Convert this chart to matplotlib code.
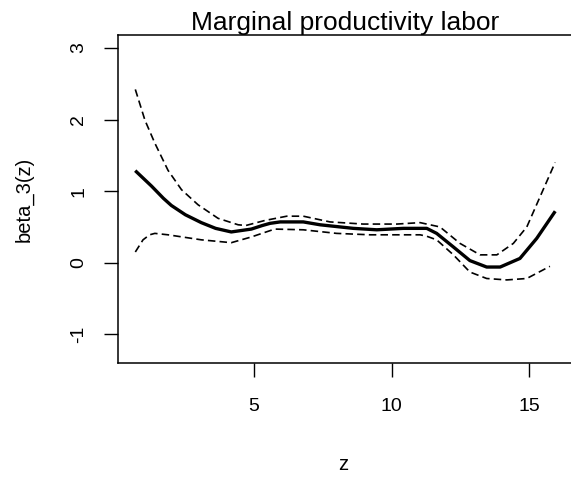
import numpy as np
import matplotlib
matplotlib.use("Agg")
import matplotlib.pyplot as plt

plt.rcParams['font.family'] = ['Liberation Sans', 'DejaVu Sans']

# estimate beta_3(z)
z_fit = [0.72, 1.27, 1.70, 1.99, 2.50, 3.08, 3.60, 4.17, 4.90, 5.30, 5.58, 5.95, 6.79, 7.40,
         8.61, 9.46, 10.43, 11.28, 11.64, 12.25, 12.85, 13.46, 13.95, 14.67, 15.28, 15.92]
beta_fit = [1.27, 1.07, 0.90, 0.80, 0.67, 0.56, 0.48, 0.43, 0.47, 0.52, 0.55, 0.57, 0.57, 0.53,
            0.48, 0.46, 0.48, 0.48, 0.41, 0.22, 0.03, -0.06, -0.06, 0.06, 0.34, 0.70]

# upper band
z_up = [0.68, 1.03, 1.39, 1.87, 2.36, 2.96, 3.69, 4.42, 4.70, 5.39, 6.19, 6.79, 7.76, 8.97,
        10.19, 11.04, 11.76, 12.49, 13.22, 13.83, 14.43, 14.92, 15.40, 15.95]
beta_up = [2.42, 1.99, 1.67, 1.29, 1.02, 0.81, 0.62, 0.53, 0.52, 0.59, 0.65, 0.65, 0.57, 0.54,
           0.54, 0.56, 0.50, 0.27, 0.11, 0.11, 0.27, 0.50, 0.92, 1.40]

# lower band
z_lo = [0.68, 0.96, 1.20, 1.39, 1.87, 3.08, 4.17, 4.90, 5.75, 6.79, 8.00, 9.22, 10.43, 11.04,
        11.28, 11.64, 12.25, 12.85, 13.46, 14.19, 14.92, 15.76]
beta_lo = [0.15, 0.32, 0.39, 0.41, 0.39, 0.32, 0.28, 0.36, 0.47, 0.46, 0.41, 0.39, 0.39, 0.39,
           0.37, 0.32, 0.11, -0.13, -0.22, -0.24, -0.22, -0.05]

x_ticks = [5, 10, 15]
y_ticks = [-1, 0, 1, 2, 3]

W, H = 571, 479
fig = plt.figure(figsize=(W / 100, H / 100), dpi=100)
# plot box runs slightly past the right edge, as in the reference
ax = fig.add_axes([118 / W, 1 - 363 / H, 455 / W, 328 / H])

ax.plot(z_fit, beta_fit, color="black", lw=2.4, solid_joinstyle="round")
ax.plot(z_up, beta_up, color="black", lw=1.2, linestyle=(0, (4.5, 2.5)))
ax.plot(z_lo, beta_lo, color="black", lw=1.2, linestyle=(0, (4.5, 2.5)))

ax.set_xlim(0.05, 16.6)
ax.set_ylim(-1.40, 3.18)
ax.set_xticks(x_ticks)
ax.set_yticks(y_ticks)
ax.set_yticklabels([str(v) for v in y_ticks], rotation=90, va="center")
ax.tick_params(direction="out", length=10, width=1, labelsize=14, colors="black")
ax.tick_params(axis="x", pad=15)
ax.tick_params(axis="y", pad=12)

for s in ax.spines.values():
    s.set_linewidth(1.1)

ax.set_title("Marginal productivity labor", fontsize=19, pad=3)
fig.text(342.7 / W, 1 - 465 / H, "z", fontsize=14.5, ha="center", va="center")
fig.text(24 / W, 1 - 199 / H, "beta_3(z)", fontsize=14.5, ha="center", va="center", rotation=90)

fig.savefig("out.png", dpi=100)
